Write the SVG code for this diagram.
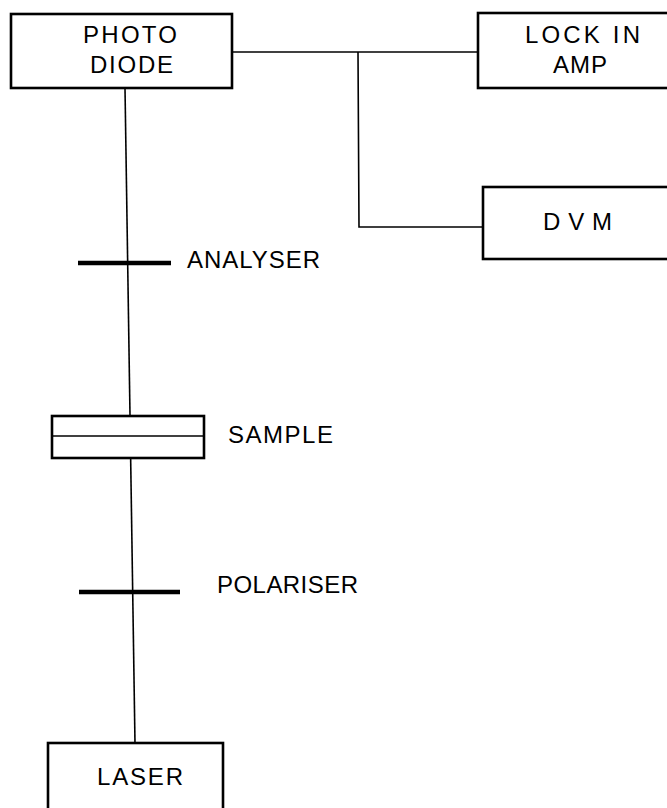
<svg xmlns="http://www.w3.org/2000/svg" width="667" height="808" viewBox="0 0 667 808">
<style>
.box{fill:none;stroke:#000;stroke-width:2.6}
.ln{fill:none;stroke:#000;stroke-width:1.6}
.bar{fill:none;stroke:#000;stroke-width:4.5}
text{font-family:"Liberation Sans",Arial,sans-serif;font-size:24px;fill:#000}
</style>
<rect width="667" height="808" fill="#fff"/>
<g id="connectors">
<line class="ln" x1="125" y1="88" x2="135" y2="743"/>
<line class="ln" x1="232" y1="52" x2="478" y2="52"/>
<polyline class="ln" points="358,52 359,227 483,227"/>
</g>
<g id="photodiode">
<rect class="box" x="11" y="14" width="221" height="74"/>
<text x="83" y="43" textLength="94" lengthAdjust="spacing">PHOTO</text>
<text x="90" y="73" textLength="83" lengthAdjust="spacing">DIODE</text>
</g>
<g id="lockin">
<rect class="box" x="478" y="13" width="195" height="75"/>
<text x="525" y="43" textLength="115" lengthAdjust="spacing">LOCK  IN</text>
<text x="553" y="73" textLength="54" lengthAdjust="spacing">AMP</text>
</g>
<g id="dvm">
<rect class="box" x="483" y="187" width="190" height="72"/>
<text x="543" y="230" textLength="69" lengthAdjust="spacing">DVM</text>
</g>
<g id="analyser">
<line class="bar" x1="78" y1="263" x2="171" y2="263"/>
<text x="187" y="268" textLength="133" lengthAdjust="spacing">ANALYSER</text>
</g>
<g id="sample">
<rect class="box" x="52" y="416" width="152" height="42" style="fill:#fff"/>
<line class="ln" x1="52" y1="436" x2="204" y2="436"/>
<text x="228" y="443" textLength="105" lengthAdjust="spacing">SAMPLE</text>
</g>
<g id="polariser">
<line class="bar" x1="79" y1="592" x2="180" y2="592"/>
<text x="217" y="593" textLength="141" lengthAdjust="spacing">POLARISER</text>
</g>
<g id="laser">
<rect class="box" x="48" y="743" width="175" height="70"/>
<text x="97" y="785" textLength="86" lengthAdjust="spacing">LASER</text>
</g>
</svg>
